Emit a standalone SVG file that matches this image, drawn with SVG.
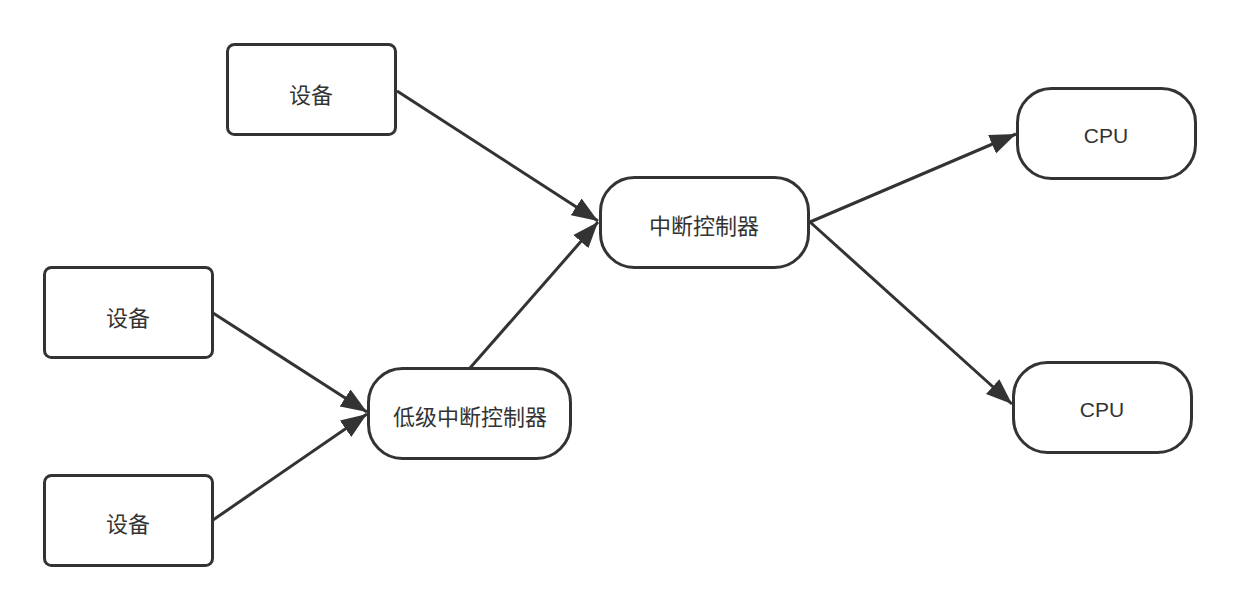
<svg xmlns="http://www.w3.org/2000/svg" width="1240" height="610" viewBox="0 0 1240 610">
<style>
.box{fill:#fff;stroke:#333;stroke-width:3}
.lbl{font-family:"Noto Sans CJK SC","Noto Sans",sans-serif;font-size:22px;fill:#333;text-anchor:middle;dominant-baseline:central}
.cpu{font-family:"Liberation Sans","Noto Sans",sans-serif;font-size:21px;fill:#333;text-anchor:middle;dominant-baseline:central}
.edge{fill:none;stroke:#333;stroke-width:3}
</style>
<defs>
<marker id="arr" markerUnits="userSpaceOnUse" markerWidth="28" markerHeight="22" refX="26" refY="11" orient="auto">
<path d="M0,1 L26,11 L0,21 Z" fill="#333"/>
</marker>
</defs>
<rect width="1240" height="610" fill="#fff"/>
<g id="connectors">
<line class="edge" x1="397" y1="91" x2="598" y2="221" marker-end="url(#arr)"/>
<line class="edge" x1="470" y1="368" x2="598" y2="222" marker-end="url(#arr)"/>
<line class="edge" x1="213" y1="313" x2="367" y2="412" marker-end="url(#arr)"/>
<line class="edge" x1="213" y1="520" x2="367" y2="414" marker-end="url(#arr)"/>
<line class="edge" x1="810" y1="222" x2="1016" y2="134" marker-end="url(#arr)"/>
<line class="edge" x1="810" y1="222" x2="1012" y2="404" marker-end="url(#arr)"/>
</g>
<g id="dev1"><rect class="box" x="227.5" y="44.5" width="168" height="90" rx="7"/><text class="lbl" x="311" y="93">设备</text></g>
<g id="dev2"><rect class="box" x="44.5" y="267.5" width="168" height="90" rx="7"/><text class="lbl" x="128" y="316">设备</text></g>
<g id="dev3"><rect class="box" x="44.5" y="475.5" width="168" height="90" rx="7"/><text class="lbl" x="128" y="522">设备</text></g>
<g id="ctrl"><rect class="box" x="600.5" y="177.5" width="208" height="90" rx="34"/><text class="lbl" x="704" y="224">中断控制器</text></g>
<g id="lowctrl"><rect class="box" x="368.5" y="368.5" width="202" height="90" rx="34"/><text class="lbl" x="470" y="415">低级中断控制器</text></g>
<g id="cpu1"><rect class="box" x="1017.5" y="88.5" width="178" height="90" rx="34"/><text class="cpu" x="1106" y="135">CPU</text></g>
<g id="cpu2"><rect class="box" x="1013.5" y="362.5" width="178" height="90" rx="34"/><text class="cpu" x="1102" y="409">CPU</text></g>
</svg>
